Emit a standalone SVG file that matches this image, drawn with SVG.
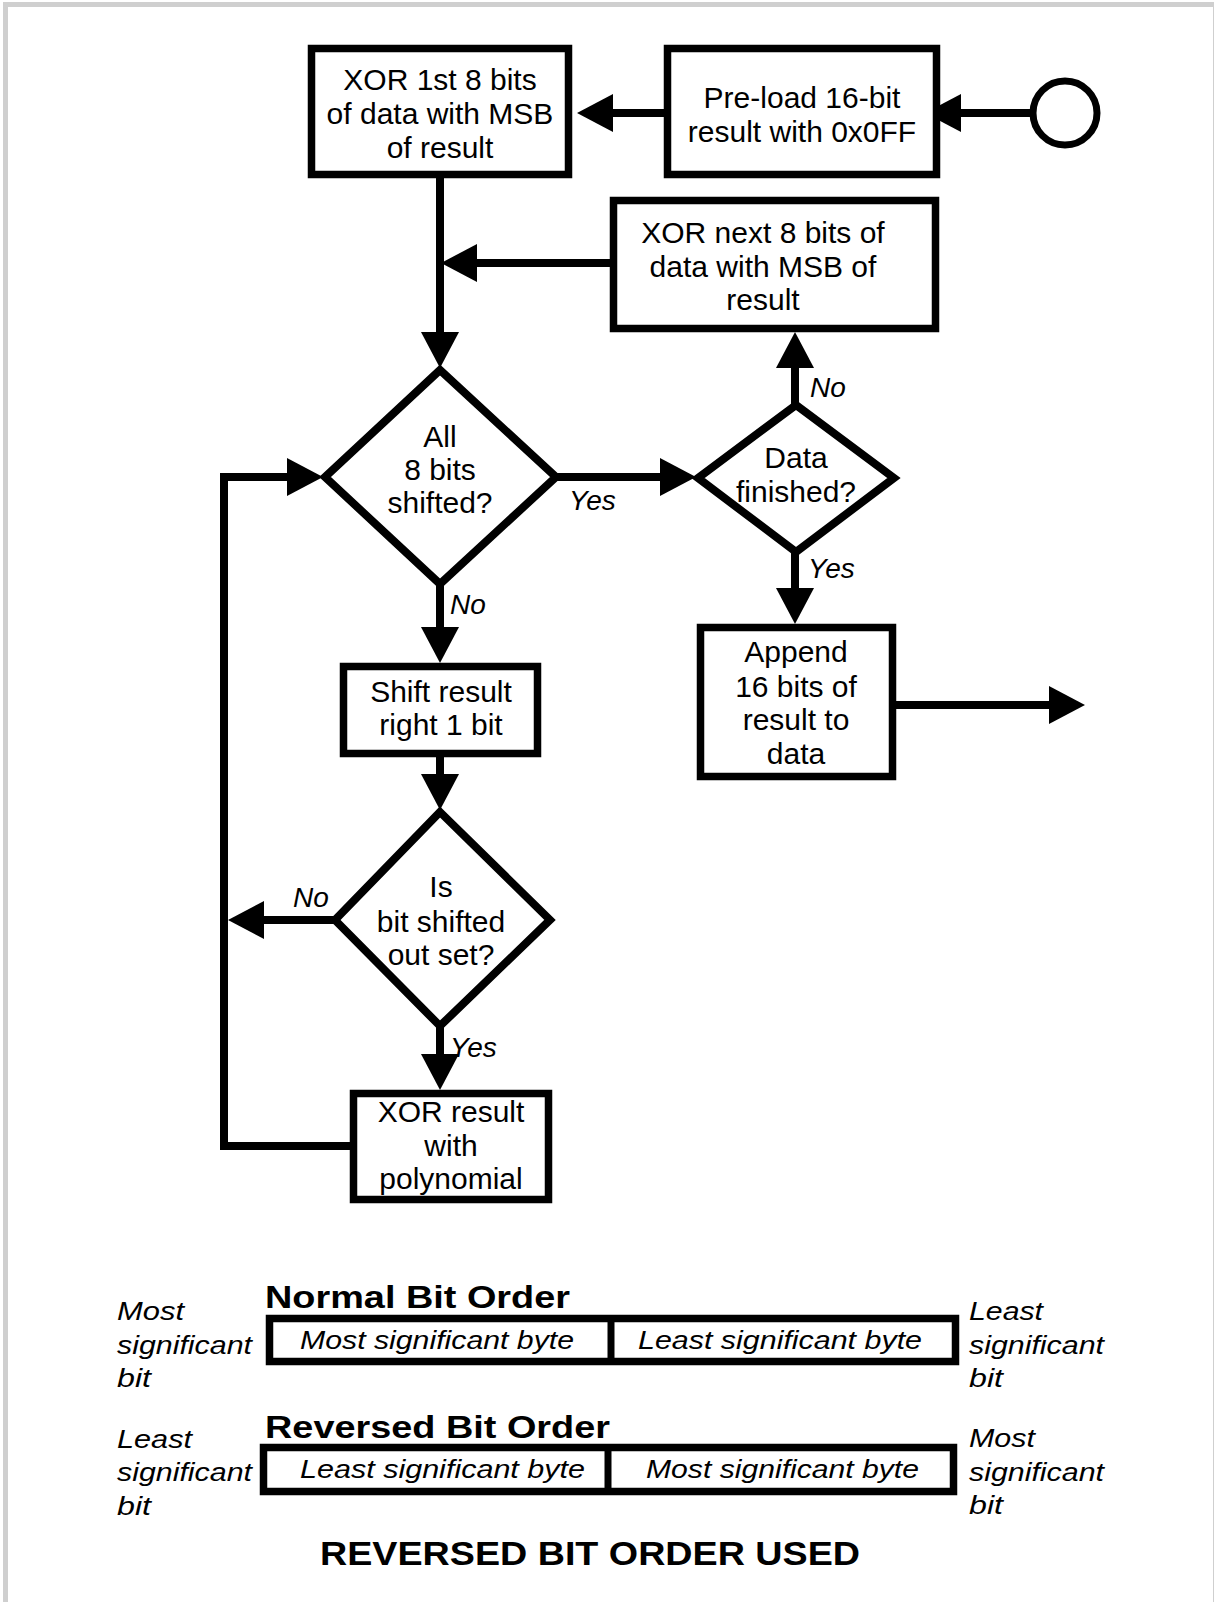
<svg xmlns="http://www.w3.org/2000/svg" width="1214" height="1602" viewBox="0 0 1214 1602">
<defs>
<style>
.box{fill:#fff;stroke:#000;stroke-width:7.5}
.dia{fill:#fff;stroke:#000;stroke-width:8;stroke-linejoin:miter}
.con{fill:none;stroke:#000;stroke-width:8;stroke-linejoin:miter}
.t{font-family:"Liberation Sans",Arial,sans-serif;font-size:30px;fill:#000;text-anchor:middle}
.lb{font-family:"Liberation Sans",Arial,sans-serif;font-size:28px;font-style:italic;fill:#000}
.it{font-family:"Liberation Sans",Arial,sans-serif;font-size:26px;font-style:italic;fill:#000}
.bd{font-family:"Liberation Sans",Arial,sans-serif;font-weight:bold;fill:#000}
</style>
<marker id="ah" viewBox="0 0 36 38" refX="16" refY="19" markerWidth="36" markerHeight="38" markerUnits="userSpaceOnUse" orient="auto">
<path d="M0,0 L36,19 L0,38 z" fill="#000"/>
</marker>
</defs>
<rect x="0" y="0" width="1214" height="1602" fill="#fff"/>
<rect x="5.5" y="4.5" width="1210" height="1600" fill="none" stroke="#cfcfcf" stroke-width="5"/>

<g id="connectors">
<path class="con" d="M1033,113 H945" marker-end="url(#ah)"/>
<path class="con" d="M664,113 H597" marker-end="url(#ah)"/>
<path class="con" d="M440,178 V348" marker-end="url(#ah)"/>
<path class="con" d="M610,263 H461" marker-end="url(#ah)"/>
<path class="con" d="M556,477 H676" marker-end="url(#ah)"/>
<path class="con" d="M795,405 V352" marker-end="url(#ah)"/>
<path class="con" d="M795,552 V604" marker-end="url(#ah)"/>
<path class="con" d="M896,705 H1065" marker-end="url(#ah)"/>
<path class="con" d="M440,584 V643" marker-end="url(#ah)"/>
<path class="con" d="M440,757 V790" marker-end="url(#ah)"/>
<path class="con" d="M335,920 H248" marker-end="url(#ah)"/>
<path class="con" d="M440,1026 V1070" marker-end="url(#ah)"/>
<path class="con" d="M353,1146 H224 V477 H303" marker-end="url(#ah)"/>
<text class="lb" x="569" y="510">Yes</text>
<text class="lb" x="810" y="397">No</text>
<text class="lb" x="808" y="578">Yes</text>
<text class="lb" x="450" y="614">No</text>
<text class="lb" x="293" y="907">No</text>
<text class="lb" x="450" y="1057">Yes</text>
</g>

<g id="start">
<circle cx="1065" cy="113" r="32" fill="#fff" stroke="#000" stroke-width="7"/>
</g>

<g id="preload">
<rect class="box" x="667.5" y="48.5" width="269" height="126"/>
<text class="t" x="802" y="108">Pre-load 16-bit</text>
<text class="t" x="802" y="142">result with 0x0FF</text>
</g>

<g id="xor-first">
<rect class="box" x="311.5" y="48.5" width="257" height="126"/>
<text class="t" x="440" y="90">XOR 1st 8 bits</text>
<text class="t" x="440" y="124">of data with MSB</text>
<text class="t" x="440" y="158">of result</text>
</g>

<g id="xor-next">
<rect class="box" x="613.5" y="200.5" width="322" height="128"/>
<text class="t" x="763" y="243">XOR next 8 bits of</text>
<text class="t" x="763" y="277">data with MSB of</text>
<text class="t" x="763" y="310">result</text>
</g>

<g id="all-shifted">
<polygon class="dia" points="440,370 556,477 440,584 325,477"/>
<text class="t" x="440" y="447">All</text>
<text class="t" x="440" y="480">8 bits</text>
<text class="t" x="440" y="513">shifted?</text>
</g>

<g id="data-finished">
<polygon class="dia" points="796,405 894,478 796,552 698,478"/>
<text class="t" x="796" y="468">Data</text>
<text class="t" x="796" y="502">finished?</text>
</g>

<g id="append">
<rect class="box" x="700.5" y="627.5" width="192" height="149"/>
<text class="t" x="796" y="662">Append</text>
<text class="t" x="796" y="697">16 bits of</text>
<text class="t" x="796" y="730">result to</text>
<text class="t" x="796" y="764">data</text>
</g>

<g id="shift">
<rect class="box" x="343.5" y="666.5" width="194" height="87"/>
<text class="t" x="441" y="702">Shift result</text>
<text class="t" x="441" y="735">right 1 bit</text>
</g>

<g id="bit-set">
<polygon class="dia" points="440,812 550,920 440,1026 335,920"/>
<text class="t" x="441" y="897">Is</text>
<text class="t" x="441" y="932">bit shifted</text>
<text class="t" x="441" y="965">out set?</text>
</g>

<g id="xor-poly">
<rect class="box" x="353.5" y="1093.5" width="195" height="106"/>
<text class="t" x="451" y="1122">XOR result</text>
<text class="t" x="451" y="1156">with</text>
<text class="t" x="451" y="1189">polynomial</text>
</g>

<g id="normal-order">
<text class="bd" x="265" y="1308" font-size="32" textLength="305" lengthAdjust="spacingAndGlyphs">Normal Bit Order</text>
<rect class="box" x="269.5" y="1318.5" width="686" height="43" stroke-width="7"/>
<line x1="611" y1="1318" x2="611" y2="1362" stroke="#000" stroke-width="7"/>
<text class="it" x="300" y="1349" textLength="274" lengthAdjust="spacingAndGlyphs">Most significant byte</text>
<text class="it" x="638" y="1349" textLength="284" lengthAdjust="spacingAndGlyphs">Least significant byte</text>
<text class="it" x="117" y="1320" textLength="67" lengthAdjust="spacingAndGlyphs">Most</text>
<text class="it" x="117" y="1354" textLength="135" lengthAdjust="spacingAndGlyphs">significant</text>
<text class="it" x="117" y="1387" textLength="34" lengthAdjust="spacingAndGlyphs">bit</text>
<text class="it" x="969" y="1320" textLength="74" lengthAdjust="spacingAndGlyphs">Least</text>
<text class="it" x="969" y="1354" textLength="135" lengthAdjust="spacingAndGlyphs">significant</text>
<text class="it" x="969" y="1387" textLength="34" lengthAdjust="spacingAndGlyphs">bit</text>
</g>

<g id="reversed-order">
<text class="bd" x="265" y="1438" font-size="32" textLength="345" lengthAdjust="spacingAndGlyphs">Reversed Bit Order</text>
<rect class="box" x="263.5" y="1447.5" width="690" height="44" stroke-width="7"/>
<line x1="608" y1="1447" x2="608" y2="1492" stroke="#000" stroke-width="7"/>
<text class="it" x="300" y="1478" textLength="285" lengthAdjust="spacingAndGlyphs">Least significant byte</text>
<text class="it" x="646" y="1478" textLength="273" lengthAdjust="spacingAndGlyphs">Most significant byte</text>
<text class="it" x="117" y="1448" textLength="75" lengthAdjust="spacingAndGlyphs">Least</text>
<text class="it" x="117" y="1481" textLength="135" lengthAdjust="spacingAndGlyphs">significant</text>
<text class="it" x="117" y="1515" textLength="34" lengthAdjust="spacingAndGlyphs">bit</text>
<text class="it" x="969" y="1447" textLength="66" lengthAdjust="spacingAndGlyphs">Most</text>
<text class="it" x="969" y="1481" textLength="135" lengthAdjust="spacingAndGlyphs">significant</text>
<text class="it" x="969" y="1514" textLength="34" lengthAdjust="spacingAndGlyphs">bit</text>
</g>

<g id="caption">
<text class="bd" x="320" y="1565" font-size="33" textLength="540" lengthAdjust="spacingAndGlyphs">REVERSED BIT ORDER USED</text>
</g>
</svg>
